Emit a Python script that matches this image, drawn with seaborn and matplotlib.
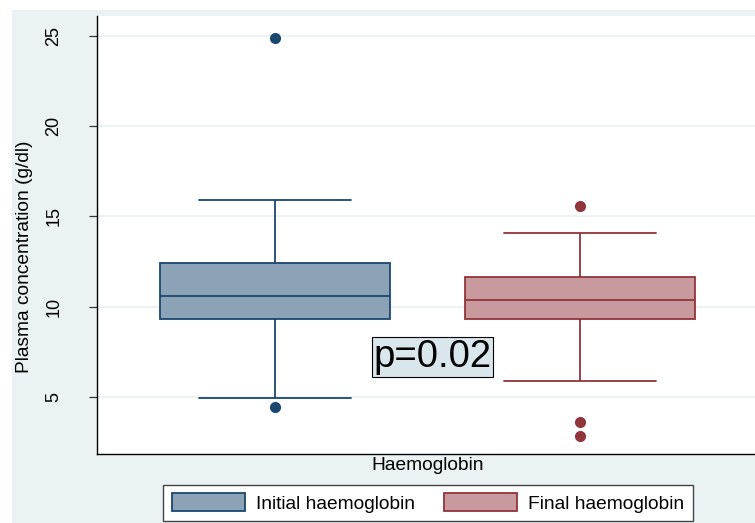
import numpy as np
import pandas as pd
import matplotlib
matplotlib.use("Agg")
import matplotlib.pyplot as plt
import seaborn as sns
from matplotlib.patches import Patch, Rectangle

# Box summaries (g/dl)
groups = ["Initial haemoglobin", "Final haemoglobin"]
initial_values = [4.46, 4.96, 9.32, 9.32, 10.57, 12.40, 12.40, 15.89, 24.88]
final_values = [2.86, 3.60, 5.88, 9.32, 9.32, 10.39, 10.39, 10.39, 11.66, 11.66, 11.66, 14.09, 15.6]
fill_colors = ["#8ca3b7", "#c89a9d"]
edge_colors = ["#1a476f", "#90353b"]
y_ticks = [5, 10, 15, 20, 25]
p_label = "p=0.02"

df = pd.DataFrame({
    "group": [groups[0]] * len(initial_values) + [groups[1]] * len(final_values),
    "value": initial_values + final_values,
})

sns.set_style("white")
plt.rcParams["font.family"] = ["Liberation Sans", "DejaVu Sans"]
for key in ["text.color", "axes.labelcolor", "xtick.color", "ytick.color"]:
    plt.rcParams[key] = "black"

fig = plt.figure(figsize=(7.55, 5.23), dpi=100)
fig.patch.set_facecolor("white")
fig.add_artist(Rectangle((12 / 755, 0), 1, 1 - 10 / 523, transform=fig.transFigure,
                         facecolor="#eaf2f3", edgecolor="none", zorder=-10))
ax = fig.add_axes([97 / 755, 1 - 454 / 523, 1 - 97 / 755, 438 / 523])
ax.set_facecolor("white")

# one call per group so each box gets its own outline colour
for g, fc, ec in zip(groups, fill_colors, edge_colors):
    sns.boxplot(data=df[df["group"] == g], x="group", y="value", order=groups,
                color=fc, linecolor=ec, saturation=1, width=0.754, linewidth=1.3,
                capwidths=0.5, ax=ax,
                flierprops=dict(marker="o", markerfacecolor=ec, markeredgecolor=ec,
                                markersize=7))

ax.set_xlim(-0.5836, 1.574)
ax.set_ylim(1.84, 26.1)
ax.set_xticks([0.5])
ax.set_xticklabels(["Haemoglobin"], fontsize=13.8)
ax.tick_params(axis="x", length=0, pad=2)
ax.set_xlabel("")

ax.set_yticks(y_ticks)
ax.set_yticklabels([str(t) for t in y_ticks], rotation=90, va="center", fontsize=13)
ax.tick_params(axis="y", direction="out", length=6, width=0.9, color="#333333", pad=19, left=True)
ax.set_ylabel("Plasma concentration (g/dl)", fontsize=13.8)
ax.yaxis.set_label_coords(-0.097, 0.45)

ax.yaxis.grid(True, color="#eaf2f3", linewidth=1.3)
ax.set_axisbelow(True)
for side in ["top", "right"]:
    ax.spines[side].set_visible(False)
for side in ["left", "bottom"]:
    ax.spines[side].set_color("black")
    ax.spines[side].set_linewidth(1.0)

ax.text(0.5 + 5 / 305, 7.2, p_label, fontsize=27.5, ha="center", va="center",
        bbox=dict(boxstyle="square,pad=0.05", facecolor="#d9e6ec", edgecolor="black", linewidth=0.8))

handles = [Patch(facecolor=fc, edgecolor=ec, linewidth=1.3) for fc, ec in zip(fill_colors, edge_colors)]
leg = fig.legend(handles, groups, loc="center", bbox_to_anchor=(428 / 755, 1 - 503 / 523),
                 ncol=2, frameon=True, fancybox=False, fontsize=13.8, handlelength=3.8,
                 handleheight=1.0, handletextpad=0.6, columnspacing=1.5, borderpad=0.45,
                 framealpha=1)
leg.get_frame().set_facecolor("white")
leg.get_frame().set_edgecolor("#444444")
leg.get_frame().set_linewidth(1.0)

fig.savefig("out.png", dpi=100)
